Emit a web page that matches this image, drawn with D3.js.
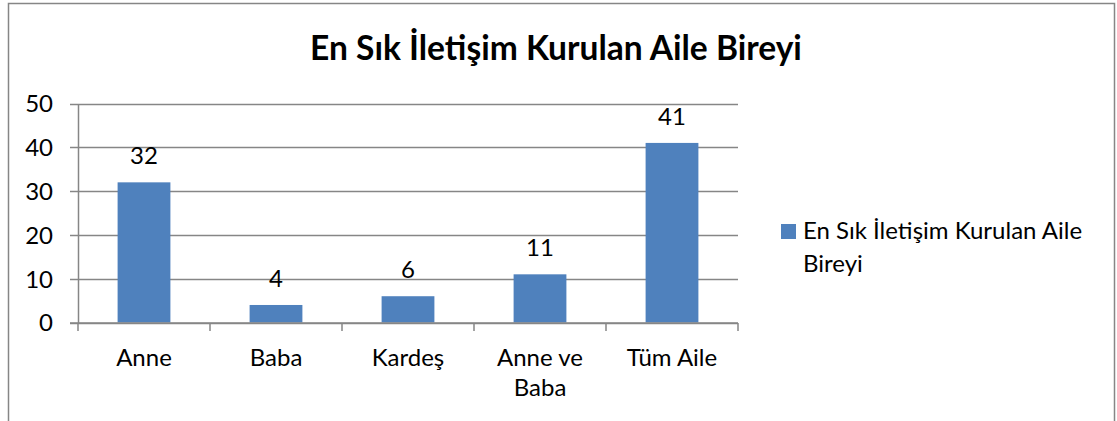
<!DOCTYPE html>
<html>
<head>
<meta charset="utf-8">
<script src="https://cdn.jsdelivr.net/npm/d3@7"></script>
<style>
  body { margin: 0; background: #fff; }
  text { font-family: Lato, "Open Sans", sans-serif; fill: #000; }
</style>
</head>
<body>
<div id="chart"></div>
<script>
// data
var categories = ["Anne", "Baba", "Kardeş", "Anne ve Baba", "Tüm Aile"];
var catLines   = [["Anne"], ["Baba"], ["Kardeş"], ["Anne ve", "Baba"], ["Tüm Aile"]];
var values     = [32, 4, 6, 11, 41];
var yTicks     = [0, 10, 20, 30, 40, 50];
var seriesName = "En Sık İletişim Kurulan Aile Bireyi";
var titleText  = "En Sık İletişim Kurulan Aile Bireyi";

var width = 1117, height = 421;
var barColor = "#4F81BD", gridColor = "#868686";
var fs = "24px";

var svg = d3.select("#chart").append("svg")
    .attr("width", width)
    .attr("height", height);

// outer frame
svg.append("rect")
   .attr("x", 8.5).attr("y", 3.5)
   .attr("width", 1106).attr("height", 440)
   .attr("fill", "none")
   .attr("stroke", gridColor)
   .attr("stroke-width", 1.5);

// title, fitted to the width seen in the picture
var title = svg.append("text")
   .attr("x", 556).attr("y", 60)
   .attr("text-anchor", "middle")
   .style("font-weight", "bold")
   .style("font-size", "33px")
   .text(titleText);
var tw = title.node().getComputedTextLength();
title.style("font-size", (33 * 492 / tw) + "px");

var x = d3.scaleBand()
    .domain(categories)
    .range([78, 738])
    .paddingInner(0.6)
    .paddingOuter(0.3);

var y = d3.scaleLinear()
    .domain([0, 50])
    .range([322.5, 103.5]);

// gridlines
svg.append("g").selectAll("line")
   .data(yTicks)
   .enter().append("line")
   .attr("x1", 70).attr("x2", 738)
   .attr("y1", function(d) { return Math.round(y(d)) + 0.5; })
   .attr("y2", function(d) { return Math.round(y(d)) + 0.5; })
   .attr("stroke", gridColor)
   .attr("stroke-width", 1.5);

// y axis
var yAxis = svg.append("g")
   .attr("transform", "translate(78,0)")
   .call(d3.axisLeft(y).tickValues(yTicks).tickSize(0).tickPadding(25));
yAxis.select(".domain").attr("stroke", gridColor).attr("stroke-width", 1.5);
yAxis.selectAll("text").style("font-size", fs).style("font-family", "Lato, sans-serif").attr("dy", "0.35em");

// bars
svg.append("g").selectAll("rect")
   .data(values)
   .enter().append("rect")
   .attr("x", function(d, i) { return x(categories[i]); })
   .attr("y", function(d) { return y(d); })
   .attr("width", x.bandwidth())
   .attr("height", function(d) { return y(0) - y(d); })
   .attr("fill", barColor);

// x axis
var boundaries = d3.range(categories.length + 1).map(function(i) { return 78 + i * x.step(); });
svg.append("line")
   .attr("x1", 70).attr("x2", 738)
   .attr("y1", 323).attr("y2", 323)
   .attr("stroke", gridColor).attr("stroke-width", 1.5);
svg.append("g").selectAll("line")
   .data(boundaries)
   .enter().append("line")
   .attr("x1", function(d) { return d; }).attr("x2", function(d) { return d; })
   .attr("y1", 323).attr("y2", 331)
   .attr("stroke", gridColor).attr("stroke-width", 1.5);

// category labels
var catG = svg.append("g").selectAll("text")
   .data(catLines)
   .enter().append("text")
   .attr("text-anchor", "middle")
   .style("font-size", fs);
catG.selectAll("tspan")
   .data(function(d, i) { return d.map(function(s) { return { s: s, i: i }; }); })
   .enter().append("tspan")
   .attr("x", function(d) { return x(categories[d.i]) + x.bandwidth() / 2; })
   .attr("y", function(d, j) { return 366 + j * 30; })
   .text(function(d) { return d.s; });

// value labels
svg.append("g").selectAll("text")
   .data(values)
   .enter().append("text")
   .attr("x", function(d, i) { return x(categories[i]) + x.bandwidth() / 2; })
   .attr("y", function(d) { return y(d) - 18; })
   .attr("text-anchor", "middle")
   .style("font-size", fs)
   .text(function(d) { return d; });

// legend
svg.append("rect")
   .attr("x", 781).attr("y", 224)
   .attr("width", 15).attr("height", 15)
   .attr("fill", barColor);
var leg = svg.append("text").style("font-size", fs);
leg.append("tspan").attr("x", 803).attr("y", 239).text("En Sık İletişim Kurulan Aile");
leg.append("tspan").attr("x", 803).attr("y", 272).text("Bireyi");
</script>
</body>
</html>
